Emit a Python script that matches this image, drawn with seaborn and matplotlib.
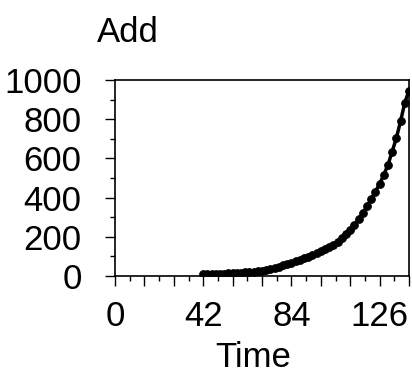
import matplotlib
matplotlib.use("Agg")
import matplotlib.pyplot as plt
import seaborn as sns
import pandas as pd

# values
time = [42, 44, 46, 48, 50, 52, 54, 56, 58, 60,
        62, 64, 66, 68, 70, 72, 74, 76, 78, 80,
        82, 84, 86, 88, 90, 92, 94, 96, 98, 100,
        102, 104, 106, 108, 110, 112, 114, 116, 118, 120,
        122, 124, 126, 128, 130, 132, 134, 136, 138, 140]
value = [10, 10, 11, 11, 12, 12, 13, 14, 15, 16,
         18, 20, 22, 25, 28, 33, 37, 42, 48, 55,
         61, 68, 75, 82, 90, 98, 107, 116, 126, 137,
         147, 158, 175, 193, 213, 235, 260, 290, 322, 356,
         392, 430, 470, 515, 568, 635, 705, 790, 885, 945]

x_major = [0, 14, 28, 42, 56, 70, 84, 98, 112, 126, 140]
x_labels = ['0', '', '', '42', '', '', '84', '', '', '126', '']
y_major = [0, 200, 400, 600, 800, 1000]

df = pd.DataFrame({'Time': time, 'Add': value})

sns.set_theme(style='ticks')
plt.rcParams['font.family'] = ['Liberation Sans', 'DejaVu Sans']
plt.rcParams['text.color'] = 'black'

fig = plt.figure(figsize=(4.12, 3.74), dpi=100)
ax = fig.add_axes([115 / 412, 98 / 374, 294 / 412, 196 / 374])

sns.lineplot(data=df, x='Time', y='Add', ax=ax, color='black', linewidth=2.5,
             marker='o', markersize=5.5, markeredgecolor='black')

ax.set_xlim(0, 140)
ax.set_ylim(0, 1000)
ax.set_xticks(x_major)
ax.set_xticklabels(x_labels)
ax.set_xticks(range(0, 141, 7), minor=True)
ax.set_yticks(y_major)
ax.set_yticks(range(0, 1001, 100), minor=True)
ax.set_xlabel('')
ax.set_ylabel('')

for s in ax.spines.values():
    s.set_visible(True)
    s.set_color('black')
    s.set_linewidth(1.2)

ax.tick_params(axis='both', which='major', direction='out', length=7, width=1,
               colors='black', labelsize=25)
ax.tick_params(axis='both', which='minor', direction='out', length=3.5, width=1,
               colors='black')
ax.tick_params(axis='x', which='major', pad=10)
ax.tick_params(axis='y', which='major', pad=17)

fig.text(97 / 412, 1 - 42 / 374, 'Add', ha='left', va='baseline', fontsize=25, color='black')
fig.text(253 / 412, 1 - 367 / 374, 'Time', ha='center', va='baseline', fontsize=25, color='black')

fig.savefig('out.png', dpi=100, facecolor='white')
